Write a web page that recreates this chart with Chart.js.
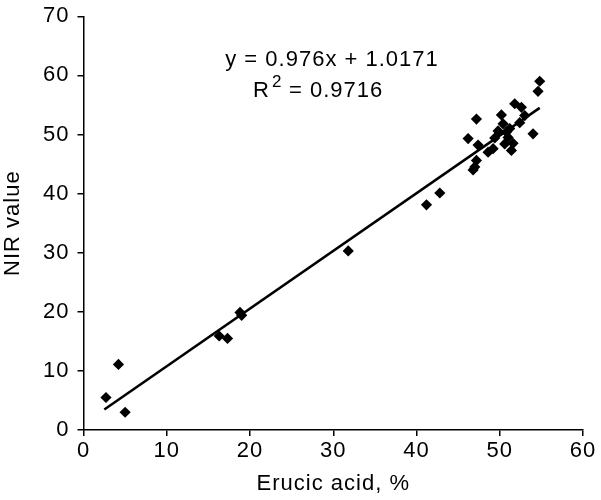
<!DOCTYPE html>
<html>
<head>
<meta charset="utf-8">
<script src="https://cdn.jsdelivr.net/npm/chart.js@4"></script>
<style>
  html, body { margin: 0; padding: 0; background: #fff; }
  #wrap { width: 601px; height: 500px; }
</style>
</head>
<body>
<div id="wrap"><canvas id="chart"></canvas></div>
<script>
const erucic = [2.7, 4.2, 5.0, 16.3, 17.3, 18.8, 19.0, 31.8, 41.2, 42.8,
  46.2, 46.8, 47.0, 47.2, 47.2, 47.4, 48.6, 49.2, 49.4, 49.8, 50.2, 50.4,
  50.6, 50.8, 51.0, 51.2, 51.4, 51.6, 51.8, 52.6, 53.0, 52.4, 54.0, 54.6, 54.8];
const nir = [5.5, 11.1, 3.0, 15.9, 15.5, 19.9, 19.4, 30.3, 38.1, 40.1,
  49.3, 44.0, 44.5, 45.6, 52.6, 48.2, 47.0, 47.6, 49.4, 50.6, 53.3, 51.8,
  48.4, 50.4, 49.5, 51.0, 47.3, 48.5, 55.2, 54.6, 53.2, 52.0, 50.1, 57.3, 59.0];

const slope = 0.976;
const intercept = 1.0171;
const rSquared = '0.9716';
const fitRange = [2.5, 54.8];

const xTicks = [0, 10, 20, 30, 40, 50, 60];
const yTicks = [0, 10, 20, 30, 40, 50, 60, 70];

const points = erucic.map((x, i) => ({ x, y: nir[i] }));
const fitLine = fitRange.map(x => ({ x, y: slope * x + intercept }));

const FONT = '"Liberation Sans", Arial, sans-serif';
const SIZE = 22;

// the original type is a bit wider than Arial, so space the letters a little
const spacing = {
  id: 'spacing',
  beforeLayout(chart) { chart.ctx.letterSpacing = '1px'; },
  beforeDraw(chart) { chart.ctx.letterSpacing = '1px'; }
};

const equationText = {
  id: 'equationText',
  afterDatasetsDraw(chart) {
    const c = chart.ctx;
    c.save();
    c.letterSpacing = '1px';
    c.fillStyle = '#000';
    c.textBaseline = 'alphabetic';
    c.font = SIZE + 'px ' + FONT;
    c.textAlign = 'center';
    c.fillText('y = ' + slope + 'x + ' + intercept, 332, 66);
    c.textAlign = 'left';
    c.fillText('R', 253, 97);
    c.font = '17px ' + FONT;
    c.fillText('2', 272, 87);
    c.font = SIZE + 'px ' + FONT;
    c.fillText('= ' + rSquared, 289, 97);
    c.restore();
  }
};

new Chart(document.getElementById('chart'), {
  type: 'scatter',
  data: {
    datasets: [
      {
        data: points,
        pointStyle: 'rectRot',
        pointRadius: 5.6,
        backgroundColor: '#000',
        borderColor: '#000',
        borderWidth: 0
      },
      {
        type: 'line',
        data: fitLine,
        borderColor: '#000',
        borderWidth: 2.5,
        pointRadius: 0,
        fill: false
      }
    ]
  },
  plugins: [spacing, equationText],
  options: {
    responsive: true,
    maintainAspectRatio: false,
    animation: false,
    layout: { padding: { top: 0, right: 18, left: 0, bottom: 0 } },
    plugins: { legend: { display: false }, tooltip: { enabled: false } },
    scales: {
      x: {
        type: 'linear',
        min: 0, max: 60,
        afterBuildTicks: s => { s.ticks = xTicks.map(v => ({ value: v })); },
        afterFit: s => { s.height = 70; },
        grid: { display: true, drawOnChartArea: false, drawTicks: true, tickLength: 6, color: '#000', lineWidth: 1.5 },
        border: { color: '#000', width: 1.5 },
        ticks: { color: '#000', font: { family: FONT, size: SIZE }, padding: 2 },
        title: { display: true, text: 'Erucic acid, %', color: '#000', font: { family: FONT, size: SIZE }, padding: { top: 2, bottom: 3 } }
      },
      y: {
        type: 'linear',
        min: 0, max: 70,
        afterBuildTicks: s => { s.ticks = yTicks.map(v => ({ value: v })); },
        afterFit: s => { s.width = 83.5; },
        grid: { display: true, drawOnChartArea: false, drawTicks: true, tickLength: 6, color: '#000', lineWidth: 1.5 },
        border: { color: '#000', width: 1.5 },
        ticks: { color: '#000', font: { family: FONT, size: SIZE, lineHeight: 0.75 }, padding: 8 },
        title: { display: true, text: 'NIR value', color: '#000', font: { family: FONT, size: SIZE }, padding: { top: 0, bottom: 0 } }
      }
    }
  }
});
</script>
</body>
</html>
